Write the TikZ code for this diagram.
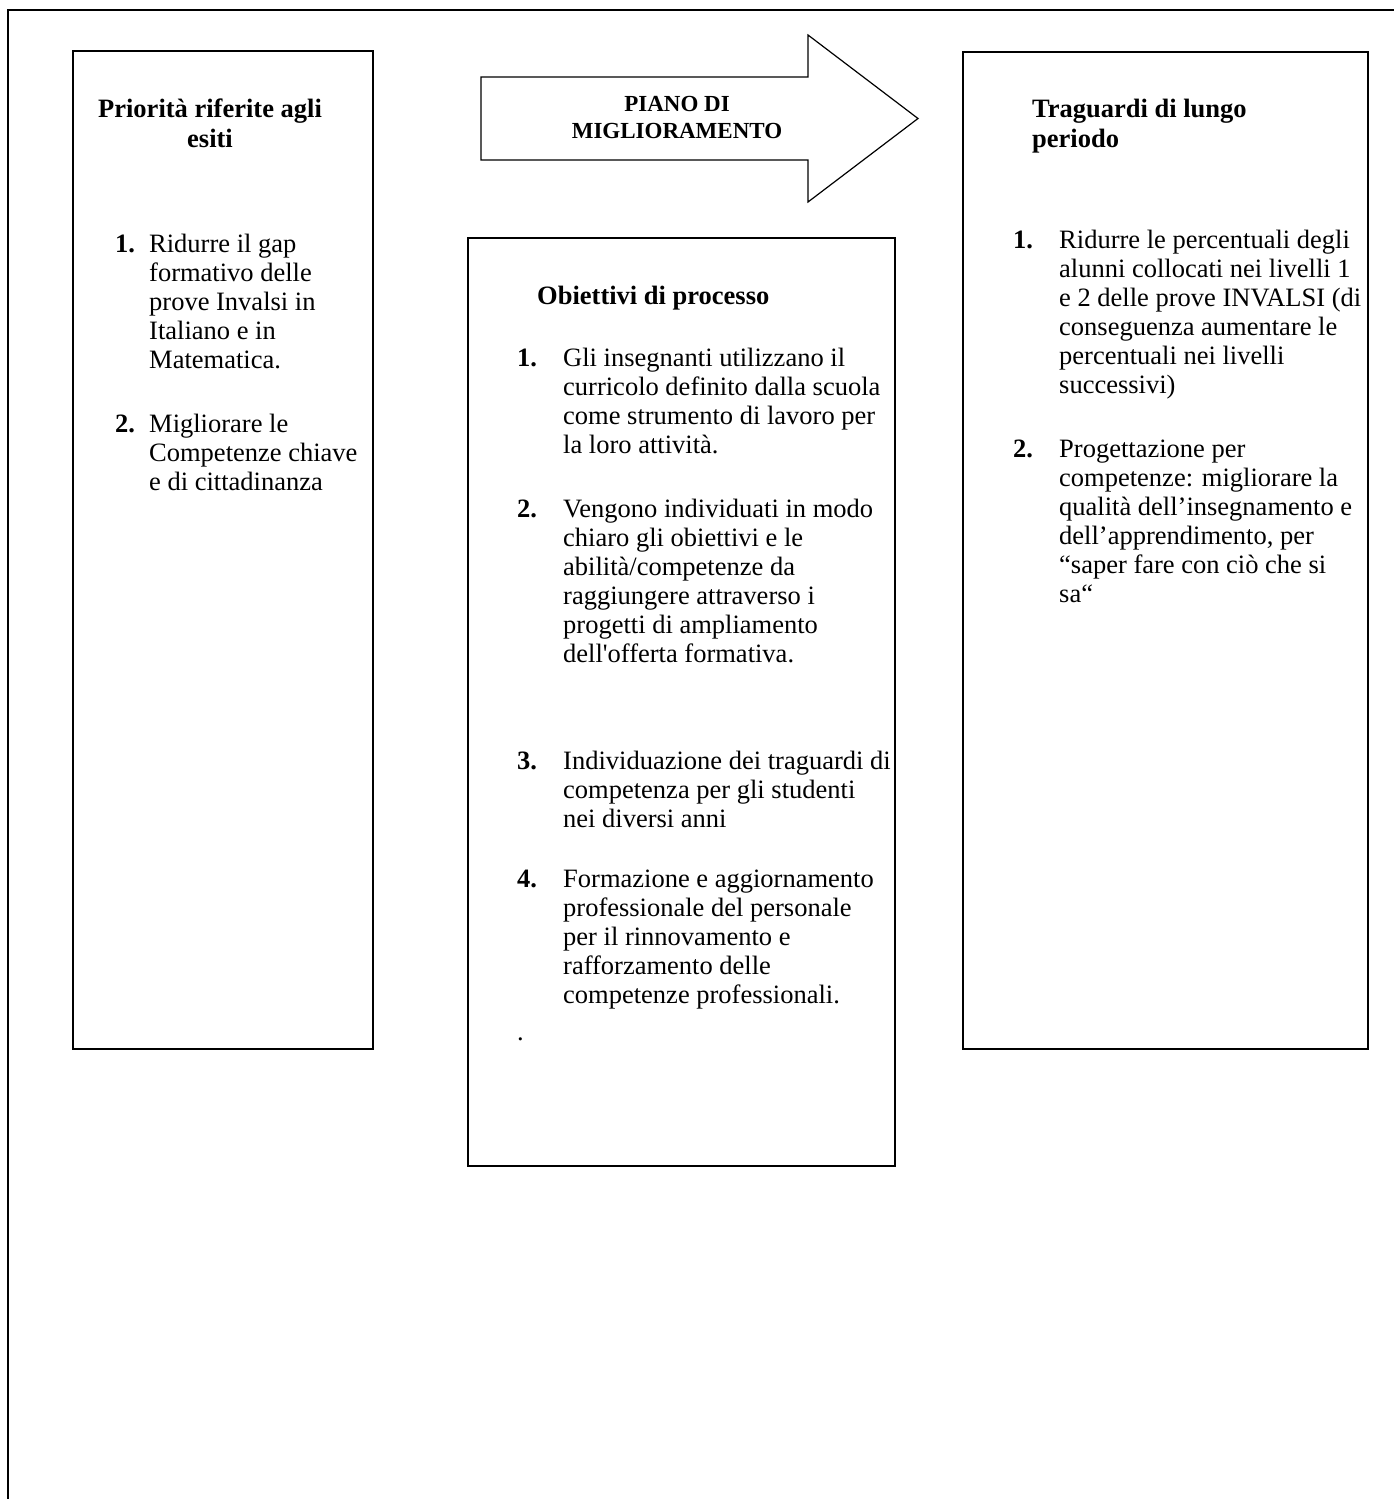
\documentclass[tikz,border=0pt]{standalone}
\usepackage{fontspec}
\setmainfont{Liberation Serif}
\newcommand\bodyfont{\fontsize{26.5}{29}\selectfont}
\newcommand\headfont{\fontsize{26.5}{30}\selectfont\bfseries}
\newcommand\arrfont{\fontsize{23}{27}\selectfont\bfseries}
\tikzset{
  frameline/.style={line width=2.2pt, line cap=rect},
  boxline/.style={line width=1.8pt},
  arrline/.style={line width=1.2pt, line join=miter},
  txt/.style={inner sep=0pt, anchor=north west, align=left, font=\bodyfont},
  numtxt/.style={inner sep=0pt, anchor=base west, font=\bodyfont\bfseries},
  headtxt/.style={inner sep=0pt, font=\headfont},
  arrtxt/.style={inner sep=0pt, anchor=base, font=\arrfont},
}
\begin{document}
\begin{tikzpicture}[x=1pt,y=-1pt]
\useasboundingbox (0,0) rectangle (1393,1499);
\fill[white] (0,0) rectangle (1393,1499);
% outer frame (top and left only)
\coordinate (fTR) at (1393,10);
\coordinate (fTL) at (8,10);
\coordinate (fBL) at (8,1499);
\draw[frameline] (fTR) -- (fTL) -- (fBL);
% boxes
\draw[boxline] (73,51) rectangle (373,1049);
\draw[boxline] (468,238) rectangle (895,1166);
\draw[boxline] (963,52) rectangle (1368,1049);
% arrow
\draw[arrline] (481,77) -- (808,77) -- (808,35) -- (918,118.5) -- (808,202) -- (808,160) -- (481,160) -- cycle;
\node[arrtxt] (a1) at (677,111) {PIANO DI};
\node[arrtxt] (a2) at (677,138) {MIGLIORAMENTO};
% left box
\node[headtxt, anchor=north, align=center] (lh) at (210,96) {\strut Priorità riferite agli\\esiti};
\node[numtxt] (ln1) at (115,252) {1.};
\node[txt] (lt1) at (149,231.7) {\strut Ridurre il gap\\formativo delle\\prove Invalsi in\\Italiano e in\\Matematica.};
\node[numtxt] (ln2) at (115,432) {2.};
\node[txt] (lt2) at (149,411.7) {\strut Migliorare le\\Competenze chiave\\e di cittadinanza};
% middle box
\node[headtxt, anchor=base west] (mh) at (537,304) {Obiettivi di processo};
\node[numtxt] (mn1) at (517,366) {1.};
\node[txt] (mt1) at (563,345.7) {\strut Gli insegnanti utilizzano il\\curricolo definito dalla scuola\\come strumento di lavoro per\\la loro attività.};
\node[numtxt] (mn2) at (517,517) {2.};
\node[txt] (mt2) at (563,496.7) {\strut Vengono individuati in modo\\chiaro gli obiettivi e le\\abilità/competenze da\\raggiungere attraverso i\\progetti di ampliamento\\dell\textquotesingle offerta formativa.};
\node[numtxt] (mn3) at (517,769) {3.};
\node[txt] (mt3) at (563,748.7) {\strut Individuazione dei traguardi di\\competenza per gli studenti\\nei diversi anni};
\node[numtxt] (mn4) at (517,887) {4.};
\node[txt] (mt4) at (563,866.7) {\strut Formazione e aggiornamento\\professionale del personale\\per il rinnovamento e\\rafforzamento delle\\competenze professionali.};
\node[inner sep=0pt, anchor=base west, font=\bodyfont] (mdot) at (517,1040) {.};
% right box
\node[headtxt, anchor=north west, align=left] (rh) at (1032,96) {\strut Traguardi di lungo\\periodo};
\node[numtxt] (rn1) at (1013,248) {1.};
\node[txt] (rt1) at (1059,227.7) {\strut Ridurre le percentuali degli\\alunni collocati nei livelli 1\\e 2 delle prove INVALSI (di\\conseguenza aumentare le\\percentuali nei livelli\\successivi)};
\node[numtxt] (rn2) at (1013,457) {2.};
\node[txt] (rt2) at (1059,436.7) {\strut Progettazione per\\competenze: migliorare la\\qualità dell’insegnamento e\\dell’apprendimento, per\\“saper fare con ciò che si\\sa“};
\end{tikzpicture}
\end{document}
